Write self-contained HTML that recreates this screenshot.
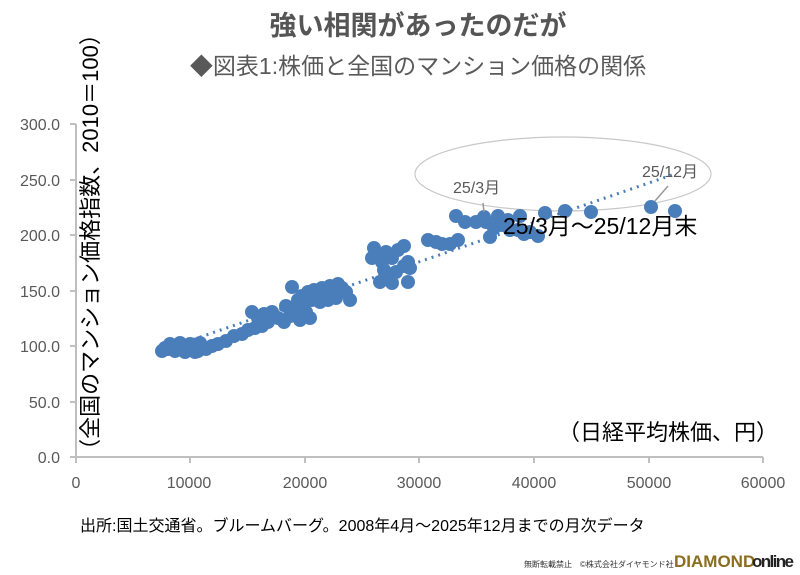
<!DOCTYPE html>
<html><head><meta charset="utf-8"><style>
html,body{margin:0;padding:0;background:#fff;}
svg{display:block;font-family:"Liberation Sans","Noto Sans CJK JP",sans-serif;}
</style></head><body>
<svg id="s" width="800" height="575" viewBox="0 0 800 575" xmlns="http://www.w3.org/2000/svg">
<rect width="800" height="575" fill="#fff"/>
<text x="418" y="35" text-anchor="middle" font-size="27" font-weight="bold" fill="#555">強い相関があったのだが</text>
<text x="418" y="74" text-anchor="middle" font-size="23" fill="#595959">◆図表1:株価と全国のマンション価格の関係</text>
<g fill="#595959" font-size="16" text-anchor="end">
<text x="60" y="130">300.0</text><text x="60" y="186">250.0</text><text x="60" y="241">200.0</text>
<text x="60" y="297">150.0</text><text x="60" y="352">100.0</text><text x="60" y="408">50.0</text><text x="60" y="463">0.0</text>
</g>
<g fill="#595959" font-size="16" text-anchor="middle">
<text x="76" y="488">0</text><text x="189" y="488">10000</text><text x="305" y="488">20000</text>
<text x="419" y="488">30000</text><text x="534" y="488">40000</text><text x="649" y="488">50000</text><text x="763" y="488">60000</text>
</g>
<g stroke="#bfbfbf" stroke-width="2" fill="none">
<path d="M76 124V457H763"/>
<path d="M70 124H76M70 180H76M70 235H76M70 291H76M70 346H76M70 402H76M70 457H76"/>
<path d="M76 457V463M190 457V463M305 457V463M419 457V463M534 457V463M649 457V463M763 457V463"/>
</g>
<text transform="translate(98,242) rotate(-90)" text-anchor="middle" font-size="22" fill="#000">（全国のマンション価格指数、2010＝100）</text>
<ellipse cx="563" cy="174" rx="148" ry="37" fill="none" stroke="#c8c8c8" stroke-width="1.2"/>
<g id="pts" fill="#4a7ebb"></g>
<line x1="180" y1="344" x2="672" y2="175" stroke="#4a7ebb" stroke-width="3" stroke-dasharray="2 5"/>
<line x1="483" y1="203" x2="484" y2="212" stroke="#999" stroke-width="1.5"/>
<line x1="668" y1="186" x2="655" y2="201" stroke="#999" stroke-width="1.5"/>
<text x="453" y="193" font-size="16" fill="#595959">25/3月</text>
<text x="642" y="177" font-size="16" fill="#595959">25/12月</text>
<text x="503" y="234" font-size="23" fill="#000">25/3月～25/12月末</text>
<text x="778" y="440" text-anchor="end" font-size="22" fill="#000">（日経平均株価、円）</text>
<text x="80" y="531" font-size="16" fill="#000">出所:国土交通省。ブルームバーグ。2008年4月～2025年12月までの月次データ</text>
<text x="524" y="567" font-size="8" fill="#333">無断転載禁止　©株式会社ダイヤモンド社</text>
<text x="674" y="567" font-size="17" font-weight="bold" fill="#8a6d1e">DIAMOND</text>
<text x="752" y="567" font-size="17" font-weight="bold" fill="#222" textLength="42">online</text>
</svg>
<script>
var P=[[162,351],[168,349],[172,346],[175,351],[178,347],[182,350],[186,346],[190,350],[194,347],[198,351],[202,347],[206,349],[212,346],[170,344],[180,343],[190,344],[200,343],[165,348],[185,352],[195,352],
[218,344],[226,341],[234,336],[242,334],[248,330],[255,328],[262,326],[268,322],[252,312],[258,318],[264,314],[272,312],[278,318],[284,322],[290,316],[296,312],[286,306],[292,287],[298,300],[304,304],[310,318],[300,320],[306,312],
[302,296],[308,292],[314,290],[318,296],[322,288],[326,292],[330,286],[334,290],[338,284],[342,288],[346,292],[350,300],[320,302],[328,300],[336,298],[312,300],
[374,248],[378,255],[382,262],[386,252],[392,258],[398,250],[404,246],[408,262],[384,270],[390,276],[396,272],[404,266],[410,268],[380,282],[392,283],[408,282],[372,258],
[428,240],[436,242],[442,244],[450,244],[458,240],[490,237],[456,216],[465,222],[476,222],[486,222],[494,228],[502,225],[510,230],[518,230],[524,234],[530,232],[538,236],[508,220],[520,216],
[545,213],[565,211],[591,212],[651,207],[675,211],[484,217],[498,216]];
var g=document.getElementById('pts'),s='';
P.forEach(function(p){s+='<circle cx="'+p[0]+'" cy="'+p[1]+'" r="7"/>';});
g.innerHTML=s;
</script>
</body></html>
